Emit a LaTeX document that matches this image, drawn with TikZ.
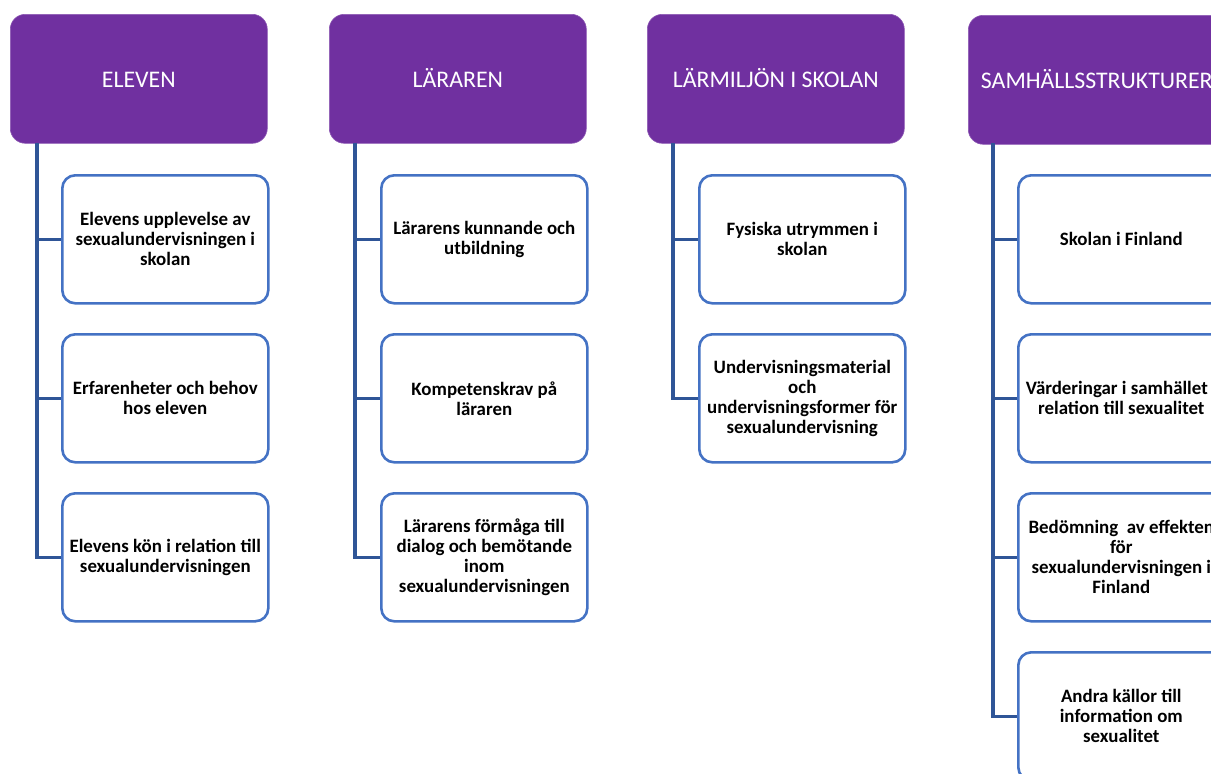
\documentclass[tikz,border=0pt]{standalone}
\usepackage{fontspec}
\setmainfont{Carlito}
\definecolor{hdrfill}{HTML}{7030A0}
\definecolor{boxline}{HTML}{4472C4}
\definecolor{connline}{HTML}{2F5597}
\tikzset{
  hdr/.style={fill=hdrfill, draw=hdrfill!80!white, line width=0.6pt, rounded corners=15pt,
    minimum width=257pt, minimum height=129pt, inner sep=0pt, anchor=north west,
    text height=17pt, text depth=0pt,
    text=white, font=\fontsize{23.8}{28}\selectfont},
  child/.style={draw=boxline, line width=2.6pt, fill=white, rounded corners=13pt,
    minimum width=206pt, minimum height=128pt, inner sep=0pt, anchor=north west,
    align=center, font=\fontsize{18.9}{20}\selectfont\bfseries},
  conn/.style={draw=connline, line width=3.1pt}
}
\begin{document}
\begin{tikzpicture}[x=1pt,y=-1pt]
\path[use as bounding box] (0,0) rectangle (1211,774);
\clip (0,0) rectangle (1211,774);
% headers
\node[hdr] (h1) at (10,14) {ELEVEN};
\node[hdr] (h2) at (329,14) {LÄRAREN};
\node[hdr] (h3) at (647,14) {LÄRMILJÖN I SKOLAN};
\node[hdr] (h4) at (968,15) {SAMHÄLLSSTRUKTURER};
% top coordinates of the trunk lines
\coordinate (t1) at (37,143);
\coordinate (t2) at (355,143);
\coordinate (t3) at (673,143);
\coordinate (t4) at (993,143);
% column 1
\node[child] (c11) at (61,174) {Elevens upplevelse av\\sexualundervisningen i\\skolan};
\node[child] (c12) at (61,333) {Erfarenheter och behov\\hos eleven};
\node[child] (c13) at (61,492) {Elevens kön i relation till\\sexualundervisningen};
% column 2
\node[child] (c21) at (380,174) {Lärarens kunnande och\\utbildning};
\node[child] (c22) at (380,333) {Kompetenskrav på\\läraren};
\node[child] (c23) at (380,492) {Lärarens förmåga till\\dialog och bemötande\\inom\\sexualundervisningen};
% column 3
\node[child] (c31) at (698,174) {Fysiska utrymmen i\\skolan};
\node[child] (c32) at (698,333) {Undervisningsmaterial\\och\\undervisningsformer för\\sexualundervisning};
% column 4
\node[child] (c41) at (1017,174) {Skolan i Finland};
\node[child] (c42) at (1017,333) {Värderingar i samhället i\\relation till sexualitet};
\node[child] (c43) at (1017,492) {Bedömning\ \ av effekten\\för\\sexualundervisningen i\\Finland};
\node[child] (c44) at (1017,651) {Andra källor till\\information om\\sexualitet};
% connectors
\draw[conn] (t1) |- (c13.west);
\draw[conn] (t1 |- c11.west) -- (c11.west);
\draw[conn] (t1 |- c12.west) -- (c12.west);
\draw[conn] (t2) |- (c23.west);
\draw[conn] (t2 |- c21.west) -- (c21.west);
\draw[conn] (t2 |- c22.west) -- (c22.west);
\draw[conn] (t3) |- (c32.west);
\draw[conn] (t3 |- c31.west) -- (c31.west);
\draw[conn] (t4) |- (c44.west);
\draw[conn] (t4 |- c41.west) -- (c41.west);
\draw[conn] (t4 |- c42.west) -- (c42.west);
\draw[conn] (t4 |- c43.west) -- (c43.west);
\end{tikzpicture}
\end{document}
